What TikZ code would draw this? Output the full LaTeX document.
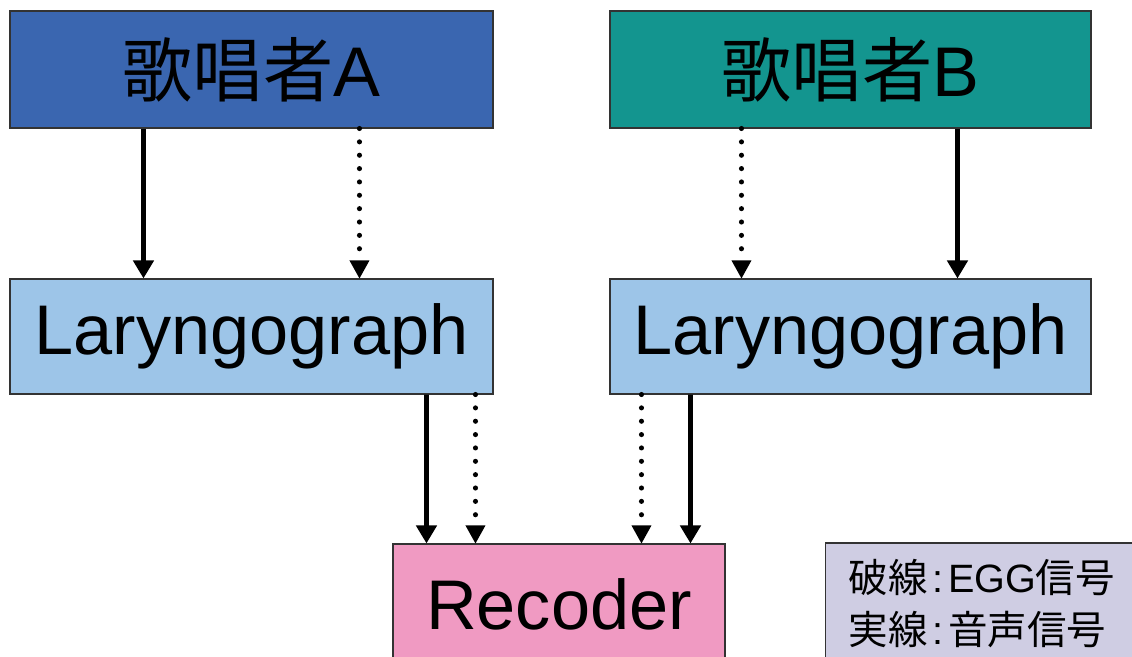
\documentclass[tikz,border=0pt]{standalone}
\usepackage{fontspec}
\setmainfont{Liberation Sans}
\newfontfamily\cjk{Noto Sans CJK JP}
\usetikzlibrary{arrows.meta}

\definecolor{singA}{HTML}{3A66B0}
\definecolor{singB}{HTML}{13958F}
\definecolor{laryn}{HTML}{9DC5E8}
\definecolor{recd}{HTML}{F09AC2}
\definecolor{keyc}{HTML}{CFCDE3}

\tikzset{
  box/.style={draw=black!80,line width=0.6pt,minimum height=2.34cm,
    font=\fontsize{40}{44}\selectfont},
  sig/.style={line width=2.6pt,-{Triangle[width=0.4cm,length=0.36cm]}},
  egg/.style={line width=2.9pt,line cap=round,dash pattern=on 0pt off 7.6pt,
    -{Triangle[width=0.4cm,length=0.36cm,line width=0pt]}}
}

\begin{document}
\begin{tikzpicture}
                \useasboundingbox (0,0) rectangle (22.64,13.14);

                \node[box,fill=singA,minimum width=9.66cm] (sA) at(5.03,11.75){{\cjk 歌唱者}A};
                \node[box,fill=singB,minimum width=9.62cm] (sB) at(17.01,11.75){{\cjk 歌唱者}B};
                \node[box,fill=laryn,minimum width=9.66cm,minimum height=2.3cm] (lA) at(5.03,6.41){Laryngograph};
                \node[box,fill=laryn,minimum width=9.62cm,minimum height=2.3cm] (lB) at(17.01,6.41){Laryngograph};
                \node[box,fill=recd,minimum width=6.64cm,minimum height=2.4cm] (rec) at(11.18,1.06){Recoder};

                \node[draw=black!80,line width=0.6pt,fill=keyc,anchor=west,align=left,
                  text width=5.8cm,inner xsep=0.46cm,minimum height=2.42cm,
                  font=\fontsize{22.5}{29.5}\selectfont] (key) at(16.5,1.07)
                  {{\cjk 破線}\hspace{0.12em}:\hspace{0.12em}EGG{\cjk 信号}\\{\cjk 実線}\hspace{0.12em}:\hspace{0.12em}{\cjk 音声信号}};

                % singers -> laryngographs
                \draw[sig] ([xshift=2.68cm]sA.south west)--([xshift=2.68cm]lA.north west);
                \draw[egg] ([xshift=7.0cm]sA.south west)--([xshift=7.0cm]lA.north west);
                \draw[egg] ([xshift=2.64cm]sB.south west)--([xshift=2.64cm]lB.north west);
                \draw[sig] ([xshift=6.96cm]sB.south west)--([xshift=6.96cm]lB.north west);

                % laryngographs -> recoder
                \draw[sig] ([xshift=8.34cm]lA.south west)--([xshift=0.68cm]rec.north west);
                \draw[egg] ([xshift=9.32cm]lA.south west)--([xshift=1.66cm]rec.north west);
                \draw[egg] ([xshift=0.64cm]lB.south west)--([xshift=4.98cm]rec.north west);
                \draw[sig] ([xshift=1.62cm]lB.south west)--([xshift=5.96cm]rec.north west);
            \end{tikzpicture}
\end{document}
